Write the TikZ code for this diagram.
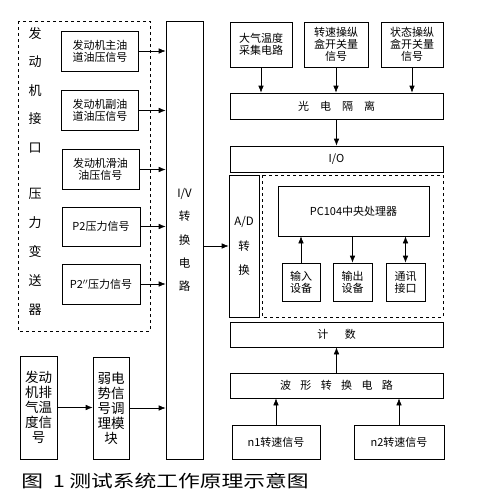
\documentclass[tikz,border=0pt]{standalone}
\usepackage{fontspec}
\setmainfont{Noto Sans CJK SC}
\usetikzlibrary{arrows.meta}
\begin{document}
\begin{tikzpicture}[x=1pt,y=-1pt,line width=.6pt,>={Latex[length=7pt,width=5.5pt]},
  box/.style={draw,inner sep=1pt,align=center,font=\fontsize{11}{12}\selectfont},
  sz/.style 2 args={minimum width=#1pt,minimum height=#2pt}]
\useasboundingbox (0,0) rectangle (477,499);
% left: pressure transmitters
\draw[dashed] (18,21) rectangle (150,331);
\node[align=center,font=\fontsize{13}{28.5}\selectfont] (lab1) at (35,90) {发\\动\\机\\接\\口};
\node[align=center,font=\fontsize{13}{29}\selectfont] (lab2) at (35,251.5) {压\\力\\变\\送\\器};
\node[box,sz={77}{40}] (p1) at (100,51) {发动机主油\\道油压信号};
\node[box,sz={77}{40}] (p2) at (100,110.5) {发动机副油\\道油压信号};
\node[box,sz={77}{40}] (p3) at (100.5,169.5) {发动机滑油\\油压信号};
\node[box,sz={78}{39}] (p4) at (101,226.5) {P2压力信号};
\node[box,sz={78}{40}] (p5) at (101,284) {P2$''$压力信号};
\node[box,sz={37}{103},font=\fontsize{13.5}{15}\selectfont] (temp) at (38.5,407.5) {发动\\机排\\气温\\度信\\号};
\node[box,sz={36}{102},font=\fontsize{13.5}{15}\selectfont] (weak) at (111,408) {弱电\\势信\\号调\\理模\\块};
\node[box,sz={37}{438},font=\fontsize{11.5}{23.3}\selectfont] (iv) at (184.5,240) {I/V\\转\\换\\电\\路};
\foreach \n in {p1,p2,p3,p4,p5,weak}
  \draw[->] (\n.east) -- (\n.east -| iv.west);
\draw[->] (temp.east) -- (temp.east -| weak.west);
% right: processing chain
\node[box,sz={62}{45}] (t1) at (261,44.5) {大气温度\\采集电路};
\node[box,sz={64}{45}] (t2) at (336,44.5) {转速操纵\\盒开关量\\信号};
\node[box,sz={62}{45}] (t3) at (412,44.5) {状态操纵\\盒开关量\\信号};
\node[box,sz={213}{26}] (iso) at (336.5,106) {光\quad 电\quad 隔\quad 离};
\node[box,sz={213}{26}] (io) at (336.5,159) {I/O};
\node[box,sz={30}{142},font=\fontsize{11.5}{24.5}\selectfont] (ad) at (244,246) {A/D\\转\\换};
\draw[dashed] (262,175) rectangle (443,317);
\node[box,sz={151}{50}] (pc) at (353.5,211) {PC104中央处理器};
\node[box,sz={38}{38}] (in) at (301,282) {输入\\设备};
\node[box,sz={39}{38}] (out) at (352.5,282) {输出\\设备};
\node[box,sz={39}{38}] (com) at (405.5,282) {通讯\\接口};
\node[box,sz={213}{25}] (cnt) at (336.5,334.5) {计\hspace{1.5em}数};
\node[box,sz={213}{25}] (wave) at (336.5,385.5) {波\hspace{.85em}形\hspace{.85em}转\hspace{.85em}换\hspace{.85em}电\hspace{.85em}路};
\node[box,sz={88}{34}] (n1) at (276,442) {n1转速信号};
\node[box,sz={90}{34}] (n2) at (399,442) {n2转速信号};
\foreach \n in {t1,t2,t3}
  \draw[->] (\n.south) -- (\n.south |- iso.north);
\draw[->] (iso.south) -- (io.north);
\draw[->] (iv.east |- ad.west) -- (ad.west);
\draw[->] (in.north) -- (in.north |- pc.south);
\draw[->] (out.north |- pc.south) -- (out.north);
\draw[<->] (com.north) -- (com.north |- pc.south);
\draw[->] (wave.north) -- (cnt.south);
\draw[->] (n1.north) -- (n1.north |- wave.south);
\draw[->] (n2.north) -- (n2.north |- wave.south);
% caption
\node[anchor=west,inner sep=0pt] (cap) at (21,481) {\scalebox{1.28}[1]{\fontsize{17}{17}\selectfont 图\hspace{.45em}1\hspace{.2em}测试系统工作原理示意图}};
\end{tikzpicture}
\end{document}
